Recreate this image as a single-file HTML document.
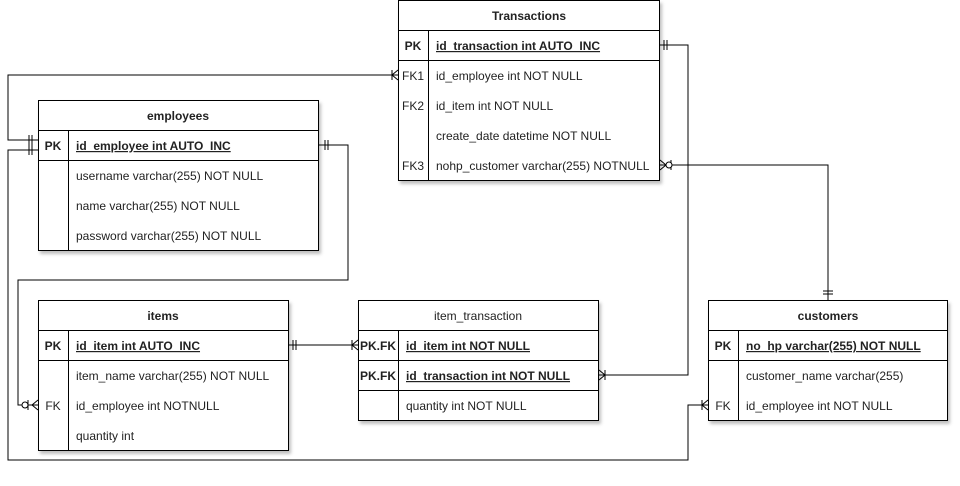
<!DOCTYPE html>
<html><head><meta charset="utf-8"><style>
body{margin:0;background:#fff;}
svg text{font-family:"Liberation Sans",Arial,sans-serif;font-size:12px;fill:#222;}
</style></head><body>
<svg width="960" height="481" xmlns="http://www.w3.org/2000/svg">
<defs><filter id="sh" x="-5%" y="-5%" width="115%" height="120%"><feDropShadow dx="2" dy="3" stdDeviation="1.5" flood-color="#000" flood-opacity="0.25"/></filter></defs>
<g fill="none" stroke="#000" stroke-width="1">
<!-- connectors -->
<polyline points="398,75 8,75 8,140 38,140"/>
<polyline points="319,145 348,145 348,280 18,280 18,405 38,405"/>
<polyline points="38,150 8,150 8,460 688,460 688,405 708,405"/>
<polyline points="660,45 688,45 688,375 599,375"/>
<polyline points="660,165 828,165 828,300"/>
<line x1="289" y1="345" x2="358" y2="345"/>
<!-- markers -->
<path d="M32,135v10M29,135v10"/><path d="M32,145v10M29,145v10"/>
<path d="M325,140v10M328,140v10"/>
<path d="M392,70v10M398,70l-6,5l6,5"/>
<path d="M28,400v10M38,400l-6,5l6,5"/><circle cx="25" cy="405" r="3" fill="#fff"/>
<path d="M702,400v10M708,400l-6,5l6,5"/>
<path d="M664,40v10M667,40v10"/>
<path d="M605,370v10M599,370l6,5l-6,5"/>
<path d="M823,291h10M823,294h10"/>
<path d="M671,160v10M660,160l6,5l-6,5"/><circle cx="669" cy="165" r="3" fill="#fff"/>
<path d="M293,340v10M296,340v10"/>
<path d="M352,340v10M358,340l-6,5l6,5"/>
</g>
<!-- tables -->
<g stroke="#000" fill="#fff">
<rect x="398.5" y="0.5" width="261" height="180" filter="url(#sh)"/>
<rect x="38.5" y="100.5" width="280" height="150" filter="url(#sh)"/>
<rect x="38.5" y="300.5" width="250" height="150" filter="url(#sh)"/>
<rect x="358.5" y="300.5" width="240" height="120" filter="url(#sh)"/>
<rect x="708.5" y="300.5" width="239" height="120" filter="url(#sh)"/>
</g>
<g stroke="#000" fill="none">
<path d="M398,30.5h262M398,60.5h262M428.5,30v150"/>
<path d="M38,130.5h281M38,160.5h281M68.5,130v120"/>
<path d="M38,330.5h251M38,360.5h251M68.5,330v120"/>
<path d="M358,330.5h241M358,360.5h241M358,390.5h241M398.5,330v90"/>
<path d="M708,330.5h240M708,360.5h240M738.5,330v90"/>
</g>
<g>
<text x="529" y="20" text-anchor="middle" font-weight="bold">Transactions</text>
<text x="413" y="50" text-anchor="middle" font-weight="bold">PK</text>
<text x="436" y="50" font-weight="bold" text-decoration="underline">id_transaction int AUTO_INC</text>
<text x="413" y="80" text-anchor="middle">FK1</text><text x="436" y="80">id_employee int NOT NULL</text>
<text x="413" y="110" text-anchor="middle">FK2</text><text x="436" y="110">id_item int NOT NULL</text>
<text x="436" y="140">create_date datetime NOT NULL</text>
<text x="413" y="170" text-anchor="middle">FK3</text><text x="436" y="170">nohp_customer varchar(255) NOTNULL</text>

<text x="178" y="120" text-anchor="middle" font-weight="bold">employees</text>
<text x="53" y="150" text-anchor="middle" font-weight="bold">PK</text>
<text x="76" y="150" font-weight="bold" text-decoration="underline">id_employee int  AUTO_INC</text>
<text x="76" y="180">username varchar(255) NOT NULL</text>
<text x="76" y="210">name varchar(255) NOT NULL</text>
<text x="76" y="240">password varchar(255) NOT NULL</text>

<text x="163" y="320" text-anchor="middle" font-weight="bold">items</text>
<text x="53" y="350" text-anchor="middle" font-weight="bold">PK</text>
<text x="76" y="350" font-weight="bold" text-decoration="underline">id_item int  AUTO_INC</text>
<text x="76" y="380">item_name varchar(255) NOT NULL</text>
<text x="53" y="410" text-anchor="middle">FK</text><text x="76" y="410">id_employee int  NOTNULL</text>
<text x="76" y="440">quantity int</text>

<text x="478" y="320" text-anchor="middle">item_transaction</text>
<text x="378" y="350" text-anchor="middle" font-weight="bold">PK.FK</text>
<text x="406" y="350" font-weight="bold" text-decoration="underline">id_item int NOT NULL</text>
<text x="378" y="380" text-anchor="middle" font-weight="bold">PK.FK</text>
<text x="406" y="380" font-weight="bold" text-decoration="underline">id_transaction int NOT NULL</text>
<text x="406" y="410">quantity int NOT NULL</text>

<text x="828" y="320" text-anchor="middle" font-weight="bold">customers</text>
<text x="723" y="350" text-anchor="middle" font-weight="bold">PK</text>
<text x="746" y="350" font-weight="bold" text-decoration="underline">no_hp varchar(255) NOT NULL</text>
<text x="746" y="380">customer_name  varchar(255)</text>
<text x="723" y="410" text-anchor="middle">FK</text><text x="746" y="410">id_employee int NOT NULL</text>
</g>
</svg>
</body></html>
